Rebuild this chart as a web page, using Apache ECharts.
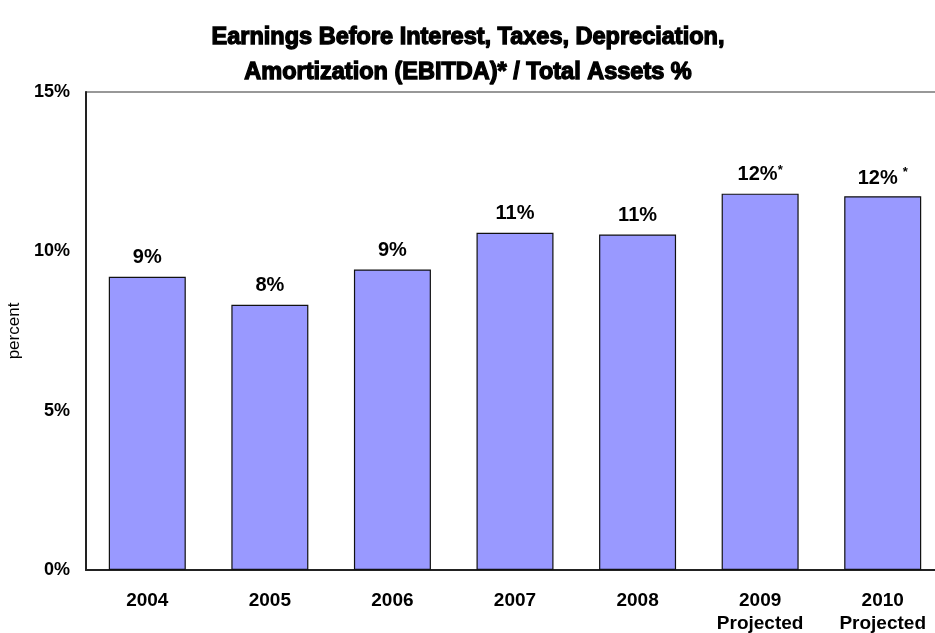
<!DOCTYPE html>
<html>
<head>
<meta charset="utf-8">
<script src="https://cdn.jsdelivr.net/npm/echarts@6/dist/echarts.min.js"></script>
<style>
  html, body { margin: 0; padding: 0; background: #fff; }
  #chart { width: 935px; height: 633px; }
</style>
</head>
<body>
<div id="chart"></div>
<script>
// EBITDA as a share of total assets, by year (percent)
const years = ['2004', '2005', '2006', '2007', '2008', '2009\nProjected', '2010\nProjected'];
const ebitdaPct = [9.2, 8.32, 9.43, 10.58, 10.53, 11.81, 11.73];
const footnotes = ['', '', '', '', '', '*', '*'];
const yTicks = [0, 5, 10, 15];

const chart = echarts.init(document.getElementById('chart'), null, { renderer: 'canvas' });

const labelFont = 'Liberation Sans, Arial, sans-serif';

chart.setOption({
  animation: false,
  backgroundColor: '#ffffff',
  title: {
    text: 'Earnings Before Interest, Taxes, Depreciation,\nAmortization (EBITDA)* / Total Assets %',
    left: 463,
    textAlign: 'center',
    top: 15,
    textStyle: {
      fontFamily: labelFont,
      fontWeight: 'bold',
      fontSize: 23.5,
      lineHeight: 35,
      color: '#000',
      textBorderColor: '#000',
      textBorderWidth: 1.3
    }
  },
  grid: {
    left: 86,
    top: 92,
    width: 858,
    height: 478,
    containLabel: false,
    outerBoundsMode: 'none',
    show: true,
    borderColor: '#333',
    borderWidth: 1.2,
    backgroundColor: 'transparent'
  },
  xAxis: {
    type: 'category',
    data: years,
    axisLine: { lineStyle: { color: '#222', width: 2 } },
    axisTick: { show: false },
    axisLabel: {
      margin: 19,
      fontFamily: labelFont,
      fontWeight: 'bold',
      fontSize: 19,
      lineHeight: 23,
      color: '#000'
    }
  },
  yAxis: {
    type: 'value',
    min: yTicks[0],
    max: yTicks[yTicks.length - 1],
    interval: yTicks[1] - yTicks[0],
    name: 'percent',
    nameLocation: 'middle',
    nameGap: 61,
    nameTextStyle: {
      fontFamily: labelFont,
      fontSize: 17,
      color: '#000'
    },
    axisLine: { show: true, lineStyle: { color: '#222', width: 2 } },
    axisTick: { show: false },
    splitLine: { show: false },
    axisLabel: {
      margin: 16,
      formatter: '{value}%',
      fontFamily: labelFont,
      fontWeight: 'bold',
      fontSize: 18,
      color: '#000'
    }
  },
  series: [{
    type: 'bar',
    data: ebitdaPct,
    barWidth: 77,
    itemStyle: {
      color: '#9999ff',
      borderColor: '#111',
      borderWidth: 1.2
    },
    label: {
      show: true,
      position: 'top',
      distance: 8,
      formatter: function (p) {
        const txt = Math.round(p.value) + '%';
        const note = footnotes[p.dataIndex];
        if (!note) return '{v|' + txt + '}';
        // the last column's marker sits higher and a little apart
        return p.dataIndex === years.length - 1
          ? '{vb|' + txt + '}{s2|' + note + '}'
          : '{v|' + txt + '}{s|' + note + '}';
      },
      rich: {
        v: {
          fontFamily: labelFont, fontWeight: 'bold', fontSize: 20, lineHeight: 22, color: '#000'
        },
        vb: {
          fontFamily: labelFont, fontWeight: 'bold', fontSize: 20, lineHeight: 22, color: '#000',
          verticalAlign: 'bottom'
        },
        s: {
          fontFamily: labelFont, fontWeight: 'bold', fontSize: 13, lineHeight: 22, color: '#000',
          verticalAlign: 'top', padding: [0, 0, 10, 0]
        },
        s2: {
          fontFamily: labelFont, fontWeight: 'bold', fontSize: 13, lineHeight: 12, color: '#000',
          verticalAlign: 'top', padding: [0, 0, 20, 5]
        }
      }
    }
  }]
});
</script>
</body>
</html>
